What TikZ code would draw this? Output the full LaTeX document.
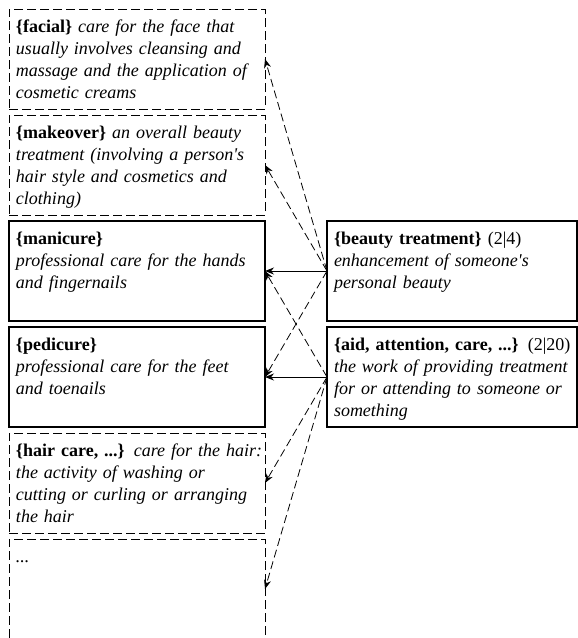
\documentclass[tikz,border=0pt]{standalone}
\usepackage{fontspec}
\setmainfont{Liberation Serif}
\usetikzlibrary{positioning}
\usetikzlibrary{arrows.meta}

\begin{document}
\begin{tikzpicture}[
                sense/.style = {draw, anchor=north west, align=left, outer sep=0pt,
                    inner xsep=7pt, inner ysep=8pt, text height=15.5pt, text depth=68.5pt,
                    font=\fontsize{18}{22}\selectfont},
                % Stile per i sensi collegati (tratteggiati) e per quelli propri (spessi)
                other sense/.style = {sense, text width=242pt, line width=0.9pt, dash pattern=on 9pt off 4pt},
                own sense/.style = {sense, text width=242pt, line width=2.8pt},
                target sense/.style = {sense, text width=236pt, line width=2.8pt},
                link/.style = {-{Stealth[length=9pt, width=7pt]}, line width=0.8pt},
                weak link/.style = {link, dash pattern=on 8pt off 4pt}
                ]

                \useasboundingbox (0,0) rectangle (578pt,-638pt);

                % --- Colonna sinistra ---
                \node[other sense] (facial) at (9pt,-9pt)
                    {\mbox{\textbf{\{facial\}} \textit{care for the face that}}\\
                     \textit{usually involves cleansing and}\\
                     \textit{massage and the application of}\\
                     \textit{cosmetic creams}};
                \node[other sense, below=6pt of facial] (makeover)
                    {\mbox{\textbf{\{makeover\}} \textit{an overall beauty}}\\
                     \textit{treatment (involving a person\textquotesingle s}\\
                     \textit{hair style and cosmetics and}\\
                     \textit{clothing)}};
                \node[own sense, below=6pt of makeover] (manicure)
                    {\textbf{\{manicure\}}\\
                     \textit{professional care for the hands}\\
                     \textit{and fingernails}};
                \node[own sense, below=6pt of manicure] (pedicure)
                    {\textbf{\{pedicure\}}\\
                     \textit{professional care for the feet}\\
                     \textit{and toenails}};
                \node[other sense, below=6pt of pedicure] (haircare)
                    {\mbox{\textbf{\{hair care, ...\}} \textit{care for the hair:}}\\
                     \textit{the activity of washing or}\\
                     \mbox{\textit{cutting or curling or arranging}}\\
                     \textit{the hair}};
                \node[other sense, below=6pt of haircare] (more) {\textit{...}};

                % --- Colonna destra ---
                \node[target sense, right=62pt of manicure] (beauty)
                    {\textbf{\{beauty treatment\}} (2|4)\\
                     \textit{enhancement of someone\textquotesingle s}\\
                     \textit{personal beauty}};
                \node[target sense, right=62pt of pedicure] (care)
                    {\mbox{\textbf{\{aid, attention, care, ...\}} (2|20)}\\
                     \mbox{\textit{the work of providing treatment}}\\
                     \textit{for or attending to someone or}\\
                     \textit{something}};

                % --- Frecce ---
                \draw[link] (beauty.west) -- (manicure.east);
                \draw[link] (care.west) -- (pedicure.east);
                \draw[weak link] (beauty.west) -- (facial.east);
                \draw[weak link] (beauty.west) -- (makeover.east);
                \draw[weak link] (beauty.west) -- (pedicure.east);
                \draw[weak link] (care.west) -- (manicure.east);
                \draw[weak link] (care.west) -- (haircare.east);
                \draw[weak link] (care.west) -- (more.east);

            \end{tikzpicture}
\end{document}
